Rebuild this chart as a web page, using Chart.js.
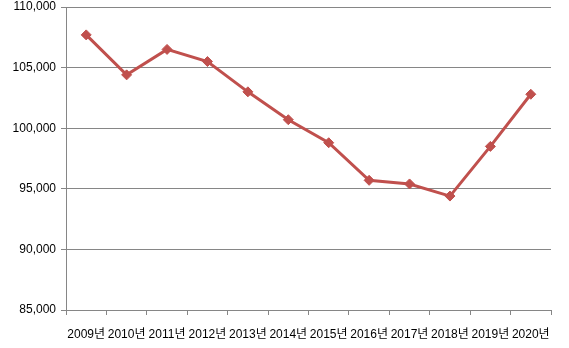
<!DOCTYPE html>
<html>
<head>
<meta charset="utf-8">
<script src="https://cdn.jsdelivr.net/npm/chart.js@4"></script>
<style>
  html, body { margin: 0; padding: 0; background: #fff; }
  #wrap { width: 569px; height: 348px; }
</style>
</head>
<body>
<div id="wrap"><canvas id="chart"></canvas></div>
<script>
const years = ["2009년", "2010년", "2011년", "2012년", "2013년", "2014년",
  "2015년", "2016년", "2017년", "2018년", "2019년", "2020년"];
const values = [107700, 104400, 106500, 105500, 103000, 100700,
  98800, 95700, 95400, 94400, 98500, 102800];
const yMin = 85000;
const yMax = 110000;
const yStep = 5000;

const axisColor = "#868686";
const lineColor = "#C0504D";
const font = { family: "'Liberation Sans', 'Noto Sans CJK KR', sans-serif", size: 12 };

new Chart(document.getElementById("chart"), {
  type: "line",
  data: {
    labels: years,
    datasets: [{
      data: values,
      borderColor: lineColor,
      backgroundColor: lineColor,
      borderWidth: 3,
      pointStyle: "rectRot",
      pointRadius: 5,
      pointBorderWidth: 1,
      tension: 0
    }]
  },
  options: {
    responsive: true,
    maintainAspectRatio: false,
    animation: false,
    layout: { padding: { top: 0, right: 18, left: 0, bottom: 0 } },
    plugins: { legend: { display: false }, tooltip: { enabled: false } },
    scales: {
      x: {
        offset: true,
        grid: {
          offset: true,
          drawOnChartArea: false,
          drawTicks: true,
          tickLength: 5,
          color: axisColor
        },
        border: { color: axisColor, width: 1 },
        ticks: {
          autoSkip: false,
          maxRotation: 0,
          minRotation: 0,
          color: "#000",
          font: font,
          padding: 12
        },
        afterFit(scale) { scale.height = 38; }
      },
      y: {
        min: yMin,
        max: yMax,
        grid: { color: axisColor, tickLength: 5 },
        border: { color: axisColor, width: 1 },
        ticks: {
          stepSize: yStep,
          color: "#000",
          font: font,
          padding: 5,
          callback: v => v.toLocaleString("en-US")
        },
        afterFit(scale) {
          scale.width = 66;
          scale.paddingTop = 7;
          scale.paddingBottom = 0;
        }
      }
    }
  }
});
</script>
</body>
</html>
